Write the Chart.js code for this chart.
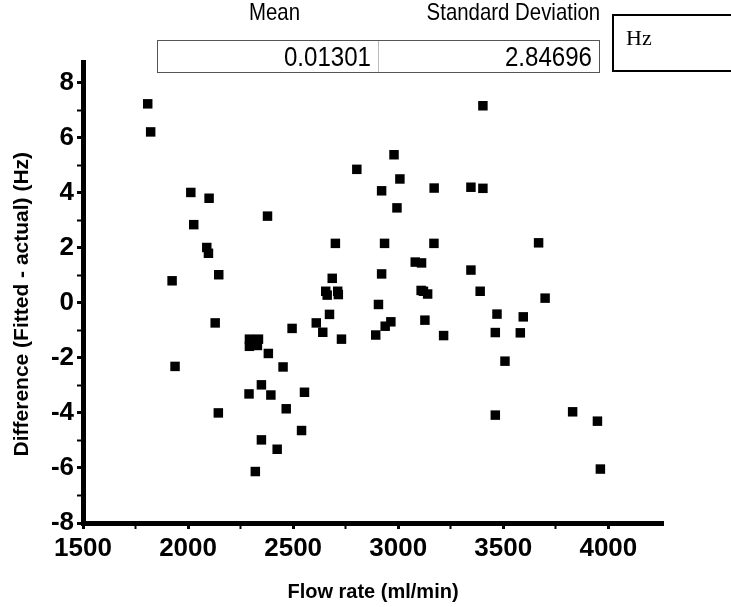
<!DOCTYPE html>
<html>
<head>
<meta charset="utf-8">
<script src="https://cdn.jsdelivr.net/npm/chart.js@4.4.1/dist/chart.umd.min.js"></script>
<style>
  body { margin: 0; background: #fff; }
  #wrap { position: relative; width: 731px; height: 607px; overflow: hidden; }
  #chart { position: absolute; left: 0; top: 0; }
  .narrow { font-family: "Liberation Sans Narrow", "Arial Narrow", "Liberation Sans", sans-serif; }
  .hd { position: absolute; top: 0; font-size: 24px; line-height: 24px; white-space: nowrap;
        text-align: right; transform: scaleX(0.85); transform-origin: right center; }
  #stats { position: absolute; left: 157px; top: 40px; width: 443px; height: 33px;
           border: 1px solid #555; box-sizing: border-box; }
  #stats .val { position: absolute; top: 0; height: 31px; font-size: 28px; line-height: 32px; text-align: right;
                transform: scaleX(0.86); transform-origin: right center; }
  #hz { position: absolute; left: 612px; top: 14px; width: 140px; height: 58px;
        border: 2px solid #000; box-sizing: border-box;
        font-family: "Liberation Serif", "DejaVu Serif", serif; font-size: 22px; padding: 9px 0 0 12px; }
</style>
</head>
<body>
<div id="wrap">
  <canvas id="chart" width="731" height="607"></canvas>
  <div class="hd narrow" id="hMean" style="right:431px;"></div>
  <div class="hd narrow" id="hSd" style="right:131px;"></div>
  <div id="stats" class="narrow">
    <div class="val" id="vMean" style="left:0; width:213px;"></div>
    <div style="position:absolute; left:220px; top:0; width:1px; height:31px; background:#bbb;"></div>
    <div class="val" id="vSd" style="left:221px; width:213px;"></div>
  </div>
  <div id="hz">Hz</div>
</div>
<script>
// gia tri doc tu hinh
const flowRate = [
  1808, 1822, 2013, 2100, 2027, 2378, 2089, 2097, 2146, 1924,
  2129, 1938, 2292, 2335, 2292, 2330, 2382, 2495, 2610, 2641,
  2452, 2349, 2290, 2394, 2554, 2467, 2144, 2540, 2349, 2424,
  2320, 3403, 2980, 2803, 3008, 2921, 3171, 3346, 3403, 2994,
  2701, 2935, 3170, 3081, 3111, 2921, 3346, 2686, 2655, 2712,
  2662, 2715, 3109, 3140, 3120, 3390, 2906, 2673, 3127, 3470,
  2965, 2938, 2893, 2730, 3216, 3462, 3462, 3668, 3699, 3595,
  3581, 3508, 3830, 3948, 3962
];
const difference = [
  7.23, 6.21, 4.01, 3.80, 2.84, 3.15, 2.01, 1.80, 1.02, 0.80,
  -0.73, -2.31, -1.32, -1.32, -1.58, -1.55, -1.84, -0.93, -0.73, -1.07,
  -2.33, -2.98, -3.31, -3.35, -3.25, -3.85, -4.00, -4.64, -4.98, -5.32,
  -6.13, 7.16, 5.38, 4.85, 4.50, 4.07, 4.17, 4.20, 4.16, 3.45,
  2.16, 2.16, 2.16, 1.48, 1.45, 1.05, 1.19, 0.89, 0.42, 0.42,
  0.28, 0.30, 0.45, 0.32, 0.42, 0.42, -0.06, -0.42, -0.63, -0.41,
  -0.69, -0.85, -1.17, -1.32, -1.19, -1.08, -4.08, 2.18, 0.17, -0.51,
  -1.09, -2.12, -3.96, -4.30, -6.04
];
const xTicks = [1500, 1750, 2000, 2250, 2500, 2750, 3000, 3250, 3500, 3750, 4000];
const xMajor = [1500, 2000, 2500, 3000, 3500, 4000];
const yTicks = [-8, -7, -6, -5, -4, -3, -2, -1, 0, 1, 2, 3, 4, 5, 6, 7, 8];
const yMajor = [-8, -6, -4, -2, 0, 2, 4, 6, 8];
const statLabels = ["Mean", "Standard Deviation"];
const statValues = ["0.01301", "2.84696"];

document.getElementById("hMean").innerText = statLabels[0];
document.getElementById("hSd").innerText = statLabels[1];
document.getElementById("vMean").innerText = statValues[0];
document.getElementById("vSd").innerText = statValues[1];

const FONT = "'Liberation Sans Narrow', 'Arial Narrow', 'Liberation Sans', sans-serif";

let points = flowRate.map((x, i) => ({ x: x, y: difference[i] }));

function tickStyle(major) {
    return function (ctx) {
        let v = ctx.tick ? ctx.tick.value : null;
        return major.includes(v) ? 3 : 2;
    };
}

new Chart(document.getElementById("chart").getContext("2d"), {
    type: "scatter",
    data: {
        datasets: [{
            data: points,
            pointStyle: "rect",
            pointRadius: 6.7,
            pointHoverRadius: 6.7,
            backgroundColor: "#000",
            borderWidth: 0
        }]
    },
    options: {
        responsive: false,
        animation: false,
        events: [],
        layout: { padding: { left: 0, top: 62, right: 68, bottom: 0 } },
        plugins: { legend: { display: false }, tooltip: { enabled: false } },
        scales: {
            x: {
                type: "linear",
                min: 1500,
                max: 4260,
                afterBuildTicks: s => { s.ticks = xTicks.map(v => ({ value: v })); },
                afterFit: s => { s.height = 84; },
                border: { display: true, color: "#000", width: 5 },
                grid: {
                    drawOnChartArea: false,
                    drawTicks: true,
                    tickLength: 6,
                    color: "#000",
                    tickWidth: tickStyle(xMajor)
                },
                ticks: {
                    color: "#000",
                    padding: 4,
                    maxRotation: 0,
                    autoSkip: false,
                    font: { family: FONT, size: 26, weight: "bold" },
                    callback: v => xMajor.includes(v) ? String(v) : ""
                },
                title: {
                    display: true,
                    text: "Flow rate (ml/min)",
                    color: "#000",
                    font: { family: FONT, size: 20, weight: "bold" },
                    padding: { top: 0, bottom: 3 }
                }
            },
            y: {
                type: "linear",
                min: -8,
                max: 8.75,
                afterBuildTicks: s => { s.ticks = yTicks.map(v => ({ value: v })); },
                afterFit: s => { s.width = 83; },
                border: { display: true, color: "#000", width: 5 },
                grid: {
                    drawOnChartArea: false,
                    drawTicks: true,
                    tickLength: 6,
                    color: "#000",
                    tickWidth: tickStyle(yMajor)
                },
                ticks: {
                    color: "#000",
                    padding: 3,
                    autoSkip: false,
                    font: { family: FONT, size: 26, weight: "bold" },
                    callback: v => yMajor.includes(v) ? String(v) : ""
                },
                title: {
                    display: true,
                    // khoang trang o cuoi de day chu xuong mot chut
                    text: "Difference (Fitted - actual) (Hz)\u00a0\u00a0\u00a0\u00a0",
                    color: "#000",
                    font: { family: FONT, size: 21, weight: "bold" },
                    padding: { top: 10, bottom: 0 }
                }
            }
        }
    }
});
</script>
</body>
</html>
